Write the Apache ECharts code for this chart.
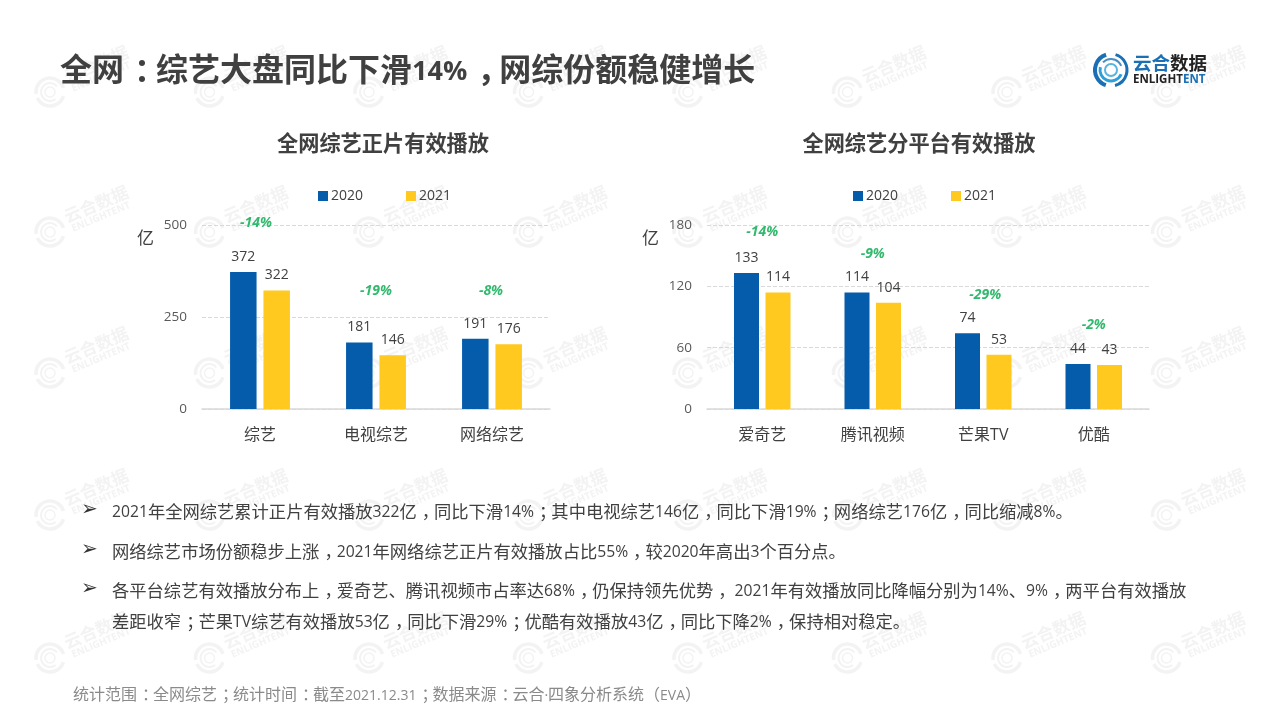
<!DOCTYPE html>
<html>
<head>
<meta charset="utf-8">
<title>全网综艺</title>
<style>
html, body { margin: 0; padding: 0; background: #fff; }
#chart { width: 1279px; height: 719px; }
</style>
<script src="https://cdn.jsdelivr.net/npm/echarts@6/dist/echarts.min.js"></script>
</head>
<body>
<div id="chart"></div>
<script>
// data
const years = ['2020', '2021'];
const totalCategories = ['综艺', '电视综艺', '网络综艺'];
const total2020 = [372, 181, 191];
const total2021 = [322, 146, 176];
const totalChange = ['-14%', '-19%', '-8%'];
const totalTicks = [0, 250, 500];

const platformCategories = ['爱奇艺', '腾讯视频', '芒果TV', '优酷'];
const platform2020 = [133, 114, 74, 44];
const platform2021 = [114, 104, 53, 43];
const platformChange = ['-14%', '-9%', '-29%', '-2%'];
const platformTicks = [0, 60, 120, 180];

const pageTitle = '全网：综艺大盘同比下滑14%，网综份额稳健增长';
const totalTitle = '全网综艺正片有效播放';
const platformTitle = '全网综艺分平台有效播放';
const unit = '亿';
const bullets = [
    '2021年全网综艺累计正片有效播放322亿，同比下滑14%；其中电视综艺146亿，同比下滑19%；网络综艺176亿，同比缩减8%。',
    '网络综艺市场份额稳步上涨，2021年网络综艺正片有效播放占比55%，较2020年高出3个百分点。',
    '各平台综艺有效播放分布上，爱奇艺、腾讯视频市占率达68%，仍保持领先优势， 2021年有效播放同比降幅分别为14%、9%，两平台有效播放',
    '差距收窄；芒果TV综艺有效播放53亿，同比下滑29%；优酷有效播放43亿，同比下降2%，保持相对稳定。'
];
const footnote = '统计范围：全网综艺；统计时间：截至2021.12.31；数据来源：云合·四象分析系统（EVA）';

// colours and fonts
const BLUE = '#045cab';
const YELLOW = '#ffc920';
const GREEN = '#00a84a';
const DARK = '#404040';
const MARK = '#f3f3f3';
const LATIN = '"Open Sans", sans-serif';
const CJK = '"Noto Sans CJK SC", sans-serif';
const CJK_TC = '"Noto Sans CJK TC", sans-serif';
const FONT = '"Open Sans", "Noto Sans CJK SC", sans-serif';

// pixel nudges of the green labels, relative to the 2020 bar tops
const totalNudge = [[-4, -49], [0, -51], [-1, -48]];
const platformNudge = [[0, -41], [0, -38], [2, -38], [0, -39]];

const chart = echarts.init(document.getElementById('chart'));

function text(x, y, str, size, color, extra) {
    return {
        type: 'text', x: x, y: y, silent: true,
        style: Object.assign({
            text: str, fontSize: size, fill: color, fontFamily: CJK,
            verticalAlign: 'middle'
        }, extra || {})
    };
}

// the slide font has small digits and punctuation sitting mid-cell, so the
// string is cut into runs: c = CJK, l = latin, p = comma/colon, s = low stop, b = bracket
function mixedText(x, y, str, cjkSize, latinSize, latinDrop, color, weight) {
    const marked = str.match(/[0-9A-Za-z.%·\- ]+|[，：；]|[、。]|[（）]|[^0-9A-Za-z.%·\- ，：；、。（）]+/g).map(function (s) {
        if (/^[，：；]$/.test(s)) return '{p|' + s + '}';
        if (/^[、。]$/.test(s)) return '{s|' + s + '}';
        if (/^[（）]$/.test(s)) return '{b|' + s + '}';
        if (/^[0-9A-Za-z.%·\- ]+$/.test(s)) return '{l|' + s + '}';
        return '{c|' + s + '}';
    }).join('');
    const base = { fontSize: cjkSize, fontFamily: CJK, fill: color, fontWeight: weight };
    const shift = Math.round(cjkSize * 0.3);
    return text(x, y, marked, cjkSize, color, {
        rich: {
            c: base,
            l: { fontSize: latinSize, fontFamily: LATIN, fill: color, fontWeight: weight, padding: [latinDrop, 0, 0, 0] },
            p: Object.assign({}, base, { width: cjkSize - shift, padding: [0, 0, 0, shift] }),
            s: Object.assign({}, base, { width: cjkSize }),
            b: Object.assign({}, base, { fontFamily: CJK_TC, width: cjkSize })
        }
    });
}

function ring(cx, cy, r, from, to, color, width) {
    return {
        type: 'arc', silent: true,
        shape: { cx: cx, cy: cy, r: r, startAngle: from, endAngle: to },
        style: { stroke: color, lineWidth: width, fill: null }
    };
}

// background stamp, repeated over the whole slide
function stamp(cx, cy) {
    const name = text(cx + 46, cy - 28, '云合数据', 17, MARK, { fontWeight: 'bold', align: 'center' });
    const sub = text(cx + 51, cy - 15, 'ENLIGHTENT', 10, MARK, { fontWeight: 'bold', fontFamily: LATIN, align: 'center' });
    name.rotation = 0.4;
    sub.rotation = 0.4;
    return [
        ring(cx, cy, 14, 0.3, 2.7, MARK, 3.5),
        ring(cx, cy, 14, 3.0, 6.0, MARK, 3.5),
        ring(cx, cy, 9, 0.9, 5.6, MARK, 2),
        ring(cx, cy, 5, 0, 6.28, MARK, 1.5),
        name,
        sub
    ].map(function (el) { el.z = -1; return el; });
}

const graphics = [];
[92, 232, 373, 515, 658].forEach(function (cy) {
    for (let i = 0; i < 8; i++) {
        stamp(50 + 159.5 * i, cy).forEach(function (el) { graphics.push(el); });
    }
});

// logo
graphics.push(
    ring(1111, 70, 16, 1.9, 4.4, '#1a6fb5', 4),
    ring(1111, 70, 16, 5.0, 7.6, '#1a6fb5', 3),
    ring(1111, 70, 11, 0.4, 3.4, '#2f9fd8', 3),
    ring(1111, 70, 11, 3.9, 5.9, '#4a8fc4', 2),
    ring(1111, 70, 6, 0, 6.28, '#5bb3e0', 2),
    text(1133, 63, '云合', 18.5, '#1a6fb5', { fontWeight: 'bold' }),
    text(1170, 63, '数据', 18.5, '#222', { fontWeight: 'bold' }),
    text(1133, 80, 'ENLIGHT', 11.5, '#222', { fontWeight: 'bold', fontFamily: LATIN }),
    text(1183, 80, 'ENT', 11.5, '#1a6fb5', { fontWeight: 'bold', fontFamily: LATIN })
);

// headline, chart titles, unit marks
graphics.push(
    mixedText(60, 69, pageTitle, 32, 27, 6, DARK, 'bold'),
    text(383, 143, totalTitle, 21.2, DARK, { fontWeight: 'bold', align: 'center' }),
    text(919, 143, platformTitle, 21.2, DARK, { fontWeight: 'bold', align: 'center' }),
    text(137, 238, unit, 17, DARK),
    text(642, 238, unit, 17, DARK)
);

// commentary
const bulletY = [511, 551, 590, 621];
bullets.forEach(function (line, i) {
    if (i < 3) {
        graphics.push(text(81, bulletY[i] - 1, '➢', 20, '#333', { fontFamily: 'DejaVu Sans' }));
    }
    graphics.push(mixedText(112, bulletY[i], line, 17.3, 15.7, 4, DARK, 'normal'));
});
graphics.push(mixedText(73, 694, footnote, 16, 14, 4, '#8a8a8a', 'normal'));

function barSeries(name, values, idx, color, width) {
    return {
        type: 'bar', name: name, data: values,
        xAxisIndex: idx, yAxisIndex: idx,
        barWidth: width, barGap: '26%',
        itemStyle: { color: color },
        label: {
            show: true, position: 'top', distance: 8,
            fontSize: 14, color: DARK, fontFamily: LATIN
        },
        animation: false
    };
}

// invisible points sitting on the 2020 bars, carrying the year-on-year label
function changeSeries(values, labels, nudge, idx) {
    return {
        type: 'scatter', name: 'change' + idx,
        xAxisIndex: idx, yAxisIndex: idx,
        symbolSize: 1, clip: false, silent: true,
        itemStyle: { color: 'transparent' },
        data: values.map(function (v, i) {
            return {
                value: [i, v],
                label: {
                    show: true, position: 'inside', formatter: labels[i],
                    offset: nudge[i], fontSize: 14, fontStyle: 'italic', fontWeight: 'bold',
                    color: GREEN, fontFamily: LATIN
                }
            };
        }),
        animation: false
    };
}

function xAxis(cats, idx) {
    return {
        type: 'category', gridIndex: idx, data: cats,
        axisTick: { show: false },
        axisLine: { lineStyle: { color: '#d9d9d9', width: 1.5 } },
        axisLabel: { fontSize: 16, color: DARK, margin: 18, fontFamily: FONT, interval: 0 }
    };
}

function yAxis(ticks, idx) {
    return {
        type: 'value', gridIndex: idx,
        min: ticks[0], max: ticks[ticks.length - 1], interval: ticks[1] - ticks[0],
        axisLine: { show: false },
        axisTick: { show: false },
        splitLine: { lineStyle: { color: '#d9d9d9', type: 'dashed' } },
        axisLabel: { fontSize: 13.5, color: '#595959', margin: 15, fontFamily: LATIN, padding: [0, 0, 2, 0] }
    };
}

const option = {
    animation: false,
    backgroundColor: '#fff',
    grid: [
        { left: 202, width: 348, top: 225, height: 184 },
        { left: 707, width: 442, top: 225, height: 184 }
    ],
    legend: [
        { data: years, left: 313, top: 184, itemWidth: 10, itemHeight: 10, itemGap: 43,
          selectedMode: false, icon: 'rect', textStyle: { fontSize: 14, color: DARK, fontFamily: LATIN, padding: [0, 0, 0, -2] } },
        { data: years, left: 848, top: 184, itemWidth: 10, itemHeight: 10, itemGap: 53,
          selectedMode: false, icon: 'rect', textStyle: { fontSize: 14, color: DARK, fontFamily: LATIN, padding: [0, 0, 0, -2] } }
    ],
    xAxis: [xAxis(totalCategories, 0), xAxis(platformCategories, 1)],
    yAxis: [yAxis(totalTicks, 0), yAxis(platformTicks, 1)],
    series: [
        barSeries(years[0], total2020, 0, BLUE, 26.5),
        barSeries(years[1], total2021, 0, YELLOW, 26.5),
        changeSeries(total2020, totalChange, totalNudge, 0),
        barSeries(years[0], platform2020, 1, BLUE, 25),
        barSeries(years[1], platform2021, 1, YELLOW, 25),
        changeSeries(platform2020, platformChange, platformNudge, 1)
    ],
    graphic: { elements: graphics }
};
chart.setOption(option);

window.addEventListener('resize', function () {
    chart.resize();
});
</script>
</body>
</html>
